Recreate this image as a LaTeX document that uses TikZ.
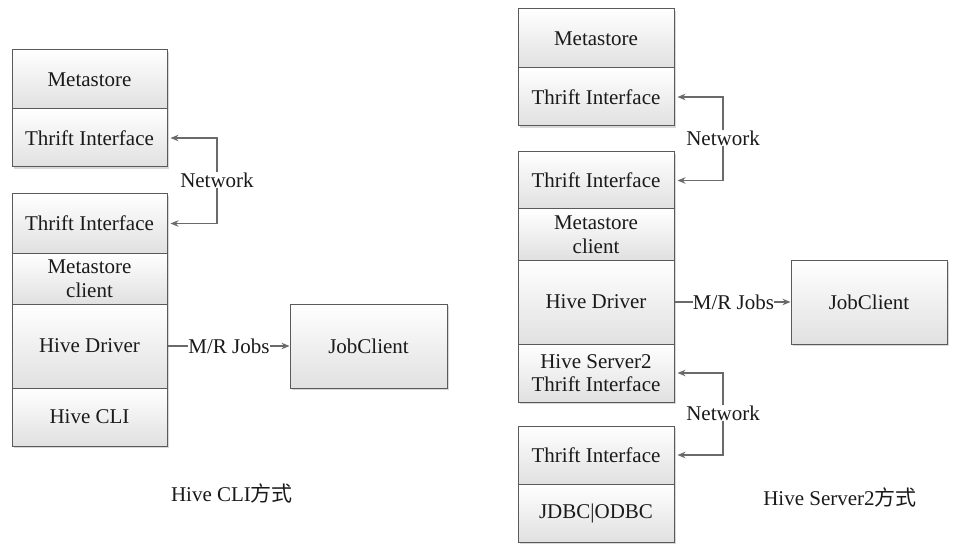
\documentclass[tikz,border=0pt]{standalone}
\usepackage{fontspec}
\setmainfont{Liberation Serif}
\newfontfamily\cjkfont{Noto Sans CJK SC}
\usetikzlibrary{arrows.meta,shadows}
\definecolor{boxline}{HTML}{5A5A5A}
\definecolor{arrline}{HTML}{6A6A6A}
\definecolor{txt}{HTML}{1A1A1A}
\tikzset{
  every node/.style={font=\fontsize{21}{23.5}\selectfont, text=txt},
  cell/.style={draw=boxline, line width=1pt, inner sep=0pt, align=center,
    top color=white, bottom color=black!12,
    drop shadow={shadow xshift=1.6pt, shadow yshift=-1.6pt, fill=black!30, opacity=0.5}},
  lbl/.style={inner sep=0pt, fill=white},
  net/.style={draw=arrline, line width=1.2pt, -{Stealth[length=8pt,width=6.5pt]}, shorten >=3pt},
  plain/.style={draw=arrline, line width=1.2pt},
  captext/.style={inner sep=0pt}
}
\begin{document}
\begin{tikzpicture}[x=1pt,y=-1pt]
\useasboundingbox (0,0) rectangle (957,553);
% ---- left stack ----
\node[cell, minimum width=155pt, minimum height=59pt] (lmeta) at (89.5,79.5) {Metastore};
\node[cell, minimum width=155pt, minimum height=58pt] (lthrifta) at (89.5,138) {Thrift Interface};
\node[cell, minimum width=155pt, minimum height=59pt] (lthriftb) at (89.5,223.5) {Thrift Interface};
\node[cell, minimum width=155pt, minimum height=51pt] (lmc) at (89.5,278.5) {Metastore\\client};
\node[cell, minimum width=155pt, minimum height=84pt] (ldriver) at (89.5,346) {Hive Driver};
\node[cell, minimum width=155pt, minimum height=58pt] (lcli) at (89.5,417) {Hive CLI};
\node[cell, minimum width=157pt, minimum height=84pt] (ljob) at (368.5,346) {JobClient};
\node[lbl] (lnet) at (217,180) {Network};
\node[lbl] (lmr) at (229,346) {M/R Jobs};
\draw[net] (lnet.north) |- (lthrifta.east);
\draw[net] (lnet.south) |- (lthriftb.east);
\draw[plain] (ldriver.east) -- (lmr.west);
\draw[net, shorten >=0pt] (lmr.east) -- (ljob.west);
\node[captext] (lcap) at (232,493) {Hive CLI{\cjkfont 方式}};
% ---- right stack ----
\node[cell, minimum width=156pt, minimum height=59pt] (rmeta) at (596,38.5) {Metastore};
\node[cell, minimum width=156pt, minimum height=58pt] (rthrifta) at (596,97) {Thrift Interface};
\node[cell, minimum width=156pt, minimum height=57pt] (rthriftb) at (596,180.5) {Thrift Interface};
\node[cell, minimum width=156pt, minimum height=51pt] (rmc) at (596,234.5) {Metastore\\client};
\node[cell, minimum width=156pt, minimum height=84pt] (rdriver) at (596,302) {Hive Driver};
\node[cell, minimum width=156pt, minimum height=58pt] (rhs) at (596,373) {Hive Server2\\Thrift Interface};
\node[cell, minimum width=156pt, minimum height=58pt] (rthriftc) at (596,455) {Thrift Interface};
\node[cell, minimum width=156pt, minimum height=58pt] (rjdbc) at (596,513) {JDBC|ODBC};
\node[cell, minimum width=156pt, minimum height=84pt] (rjob) at (869,302) {JobClient};
\node[lbl] (rneta) at (723,138) {Network};
\node[lbl] (rnetb) at (723,413) {Network};
\node[lbl] (rmr) at (733.5,302) {M/R Jobs};
\draw[net] (rneta.north) |- (rthrifta.east);
\draw[net] (rneta.south) |- (rthriftb.east);
\draw[net] (rnetb.north) |- (rhs.east);
\draw[net] (rnetb.south) |- (rthriftc.east);
\draw[plain] (rdriver.east) -- (rmr.west);
\draw[net, shorten >=0pt] (rmr.east) -- (rjob.west);
\node[captext] (rcap) at (840,497) {Hive Server2{\cjkfont 方式}};
\end{tikzpicture}
\end{document}
